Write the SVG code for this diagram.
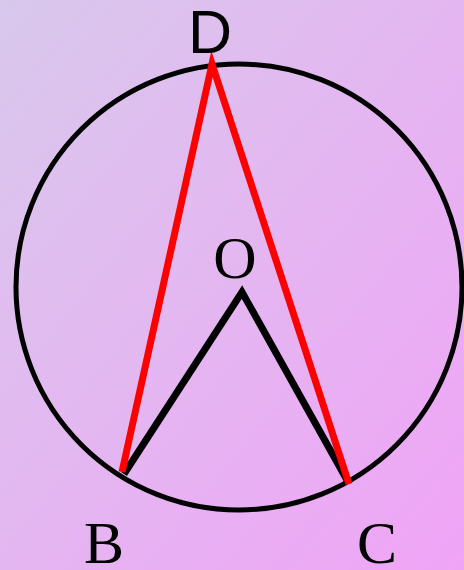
<svg xmlns="http://www.w3.org/2000/svg" width="464" height="570" viewBox="0 0 464 570">
  <defs>
    <linearGradient id="bg" x1="0" y1="0" x2="1" y2="1">
      <stop offset="0" stop-color="#d8c8ec"/>
      <stop offset="1" stop-color="#f0a4f6"/>
    </linearGradient>
    <style>
      .circ { fill: none; stroke: #000; stroke-width: 5; }
      .red { fill: none; stroke: #ff0000; stroke-width: 7; stroke-linejoin: miter; }
      .blk { fill: none; stroke: #000; stroke-width: 7; stroke-linejoin: miter; }
      .sans { font-family: "Liberation Sans", Arial, sans-serif; font-size: 61px; fill: #000; }
      .serif { font-family: "Liberation Serif", "Times New Roman", serif; font-size: 60px; fill: #000; }
    </style>
  </defs>
  <rect width="464" height="570" fill="url(#bg)"/>
  <g id="circle">
    <circle class="circ" cx="239" cy="287" r="223"/>
  </g>
  <g id="connectors">
    <polyline class="blk" points="124,474 242,292 347,480"/>
    <polyline class="red" points="122,472 212,64 349,484"/>
  </g>
  <g id="D"><text class="sans" x="210" y="53" text-anchor="middle">D</text></g>
  <g id="O"><text class="serif" x="235" y="278" text-anchor="middle">O</text></g>
  <g id="B"><text class="serif" x="104" y="563" text-anchor="middle">B</text></g>
  <g id="C"><text class="serif" x="377" y="563" text-anchor="middle">C</text></g>
</svg>
